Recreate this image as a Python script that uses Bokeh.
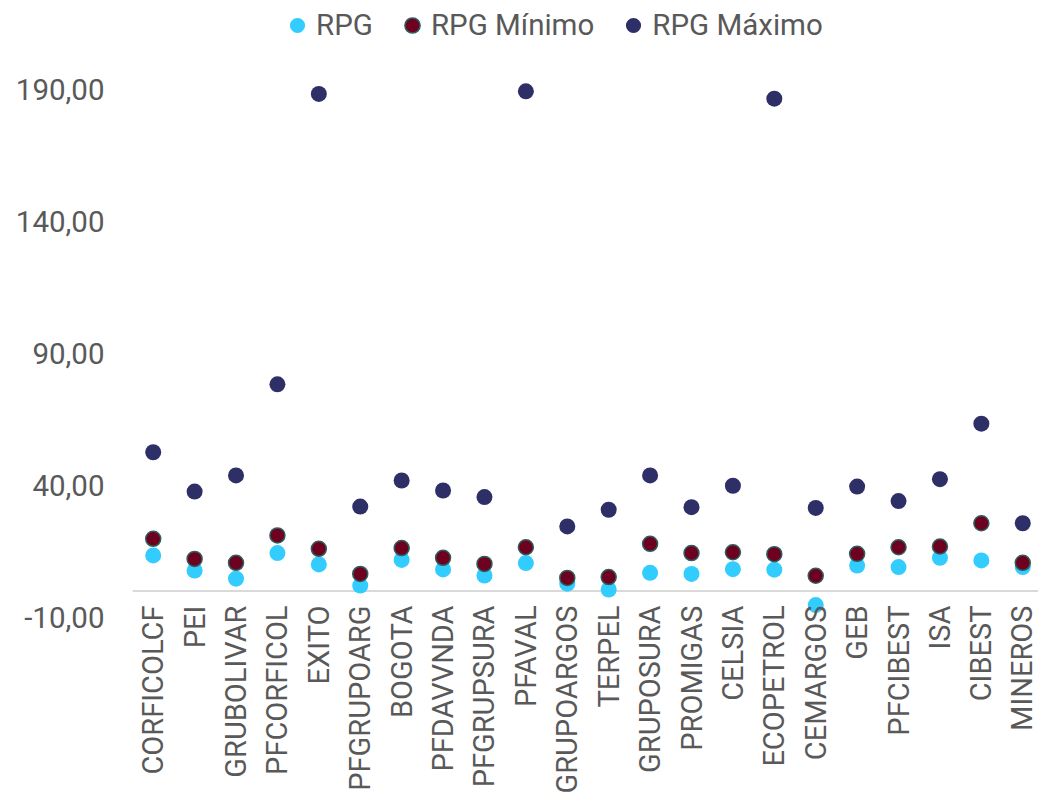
import math
from bokeh.plotting import figure
from bokeh.models import Range1d, FixedTicker, Span, Legend, LegendItem, ColumnDataSource
from bokeh.embed import file_html
from bokeh.resources import INLINE

categories = ["CORFICOLCF", "PEI", "GRUBOLIVAR", "PFCORFICOL", "EXITO", "PFGRUPOARG",
              "BOGOTA", "PFDAVVNDA", "PFGRUPSURA", "PFAVAL", "GRUPOARGOS", "TERPEL",
              "GRUPOSURA", "PROMIGAS", "CELSIA", "ECOPETROL", "CEMARGOS", "GEB",
              "PFCIBEST", "ISA", "CIBEST", "MINEROS"]
rpg = [13.5, 7.8, 4.7, 14.4, 10.1, 2.1, 11.8, 8.2, 5.9, 10.6, 2.8, 0.6,
       6.9, 6.5, 8.3, 8.1, -5.3, 9.7, 9.1, 12.6, 11.6, 9.1]
rpg_min = [19.8, 12.2, 10.7, 21.1, 16.0, 6.5, 16.3, 12.6, 10.3, 16.6, 5.0, 5.3,
           17.9, 14.4, 14.7, 14.0, 5.8, 14.1, 16.6, 16.9, 25.7, 10.7]
rpg_max = [52.6, 37.7, 43.8, 78.3, 188.3, 32.0, 41.9, 38.1, 35.6, 189.3, 24.5, 30.8,
           43.8, 31.8, 39.9, 186.5, 31.5, 39.6, 34.1, 42.4, 63.4, 25.7]
y_ticks = [-10, 40, 90, 140, 190]

FONT = "Roboto"
TXT = "#595959"

xpos = [i + 0.5 for i in range(len(categories))]
src = ColumnDataSource(dict(x=xpos, rpg=rpg, mn=rpg_min, mx=rpg_max))

p = figure(width=1038, height=797, output_backend="svg", toolbar_location=None,
           x_range=Range1d(0, 21.88), y_range=Range1d(-11.14, 223.7),
           min_border_left=132, min_border_right=0, min_border_top=0,
           min_border_bottom=177, outline_line_color=None)
p.grid.visible = False
p.background_fill_color = "white"
p.border_fill_color = "white"

zero = Span(location=0, dimension="width", line_color="#D9D9D9", line_width=2, level="underlay")
p.add_layout(zero)

r1 = p.scatter("x", "rpg", source=src, size=16, fill_color="#33CCFF", line_color=None)
r2 = p.scatter("x", "mn", source=src, size=15, fill_color="#6E0020", line_color="#2F5E5E", line_width=1.5)
r3 = p.scatter("x", "mx", source=src, size=16, fill_color="#2E2F66", line_color=None)

# y axis
ya = p.yaxis[0]
ya.ticker = FixedTicker(ticks=y_ticks)
ya.major_label_overrides = {t: f"{t:.2f}".replace(".", ",") for t in y_ticks}
ya.axis_line_color = None
ya.major_tick_line_color = None
ya.minor_tick_line_color = None
ya.major_tick_out = 0
ya.major_tick_in = 0
ya.major_label_standoff = 28
ya.major_label_text_font = FONT
ya.major_label_text_font_size = "29.5px"
ya.major_label_text_color = TXT

# x axis
xa = p.xaxis[0]
xa.ticker = FixedTicker(ticks=xpos)
xa.major_label_overrides = {x: c for x, c in zip(xpos, categories)}
xa.major_label_orientation = math.pi / 2
xa.axis_line_color = None
xa.major_tick_line_color = None
xa.minor_tick_line_color = None
xa.major_tick_out = 0
xa.major_tick_in = 0
xa.major_label_standoff = -15
xa.major_label_text_font = FONT
xa.major_label_text_font_size = "29px"
xa.major_label_text_color = TXT

legend = Legend(items=[LegendItem(label="RPG", renderers=[r1]),
                       LegendItem(label="RPG Mínimo", renderers=[r2]),
                       LegendItem(label="RPG Máximo", renderers=[r3])],
                orientation="horizontal", location=(146, 576),
                glyph_width=38, glyph_height=38, label_standoff=-3, spacing=20,
                padding=0, margin=0, border_line_color=None, background_fill_alpha=0,
                label_text_font=FONT, label_text_font_size="29.5px", label_text_color=TXT)
p.add_layout(legend, "center")

open("out.html", "w").write(file_html(p, INLINE))
